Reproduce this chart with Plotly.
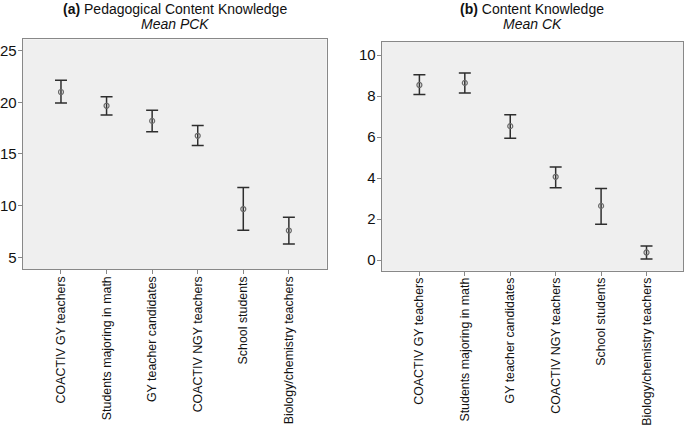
import plotly.graph_objects as go

categories = ["COACTIV GY teachers", "Students majoring in math", "GY teacher candidates",
              "COACTIV NGY teachers", "School students", "Biology/chemistry teachers"]

pck_mean = [21.0, 19.67, 18.2, 16.76, 9.67, 7.59]
pck_upper = [22.13, 20.53, 19.23, 17.75, 11.75, 8.87]
pck_lower = [19.93, 18.78, 17.15, 15.83, 7.63, 6.28]

ck_mean = [8.54, 8.64, 6.53, 4.06, 2.64, 0.37]
ck_upper = [9.04, 9.12, 7.09, 4.54, 3.49, 0.68]
ck_lower = [8.07, 8.15, 5.94, 3.52, 1.75, 0.05]

pck_ticks = [5, 10, 15, 20, 25]
ck_ticks = [0, 2, 4, 6, 8, 10]

FONT = "Liberation Sans, Arial, sans-serif"
W, H = 685, 429

fig = go.Figure()


def add_panel(mean, upper, lower, xa, ya):
    xs = list(range(len(categories)))
    fig.add_trace(go.Scatter(
        x=xs, y=mean, xaxis=xa, yaxis=ya, mode="markers",
        marker=dict(symbol="circle-open", size=5, color="#6a6a6a", line=dict(width=1.2)),
        error_y=dict(type="data", symmetric=False,
                     array=[u - m for u, m in zip(upper, mean)],
                     arrayminus=[m - l for m, l in zip(mean, lower)],
                     color="#2e2e2e", thickness=1.5, width=6),
        showlegend=False, hoverinfo="skip"))


add_panel(pck_mean, pck_upper, pck_lower, "x", "y")
add_panel(ck_mean, ck_upper, ck_lower, "x2", "y2")

xcommon = dict(tickmode="array", tickvals=list(range(len(categories))), ticktext=categories,
               tickangle=-90, ticks="outside", ticklen=4, tickcolor="#888",
               tickfont=dict(family=FONT, size=12.4, color="#111"),
               ticklabelstandoff=-3,
               showline=True, mirror=True, linecolor="#888", linewidth=1,
               showgrid=False, zeroline=False, automargin=False)
ycommon = dict(ticks="outside", ticklen=4, tickcolor="#888",
               tickfont=dict(family=FONT, size=15, color="#111"),
               ticklabelstandoff=-2,
               showline=True, mirror=True, linecolor="#888", linewidth=1,
               showgrid=False, zeroline=False, automargin=False)

left = (22.7 / W, 326.7 / W)
right = (381.7 / W, 683.3 / W)

fig.update_layout(
    width=W, height=H, template="none",
    margin=dict(l=0, r=0, t=0, b=0),
    paper_bgcolor="white", plot_bgcolor="#efefef",
    xaxis=dict(domain=list(left), range=[-0.84, 5.83], anchor="y", **xcommon),
    yaxis=dict(domain=[1 - 269.3 / H, 1 - 39.3 / H], range=[3.84, 26.1],
               tickvals=pck_ticks, anchor="x", **ycommon),
    xaxis2=dict(domain=list(right), range=[-0.83, 5.81], anchor="y2", **xcommon),
    yaxis2=dict(domain=[1 - 270.7 / H, 1 - 41.7 / H], range=[-0.52, 10.65],
                tickvals=ck_ticks, anchor="x2", **ycommon),
)

titles = [("<b>(a)</b> Pedagogical Content Knowledge", "<i>Mean PCK</i>", sum(left) / 2),
          ("<b>(b)</b> Content Knowledge", "<i>Mean CK</i>", sum(right) / 2)]
for t1, t2, xc in titles:
    fig.add_annotation(text=t1, x=xc, y=1 - 8.5 / H, xref="paper", yref="paper",
                       showarrow=False, xanchor="center", yanchor="middle",
                       font=dict(family=FONT, size=14, color="#111"))
    fig.add_annotation(text=t2, x=xc, y=1 - 24 / H, xref="paper", yref="paper",
                       showarrow=False, xanchor="center", yanchor="middle",
                       font=dict(family=FONT, size=14, color="#111"))

fig.write_html("out.html", config={"displayModeBar": False},
               post_script="document.body.style.margin='0';document.body.style.overflow='hidden';")
